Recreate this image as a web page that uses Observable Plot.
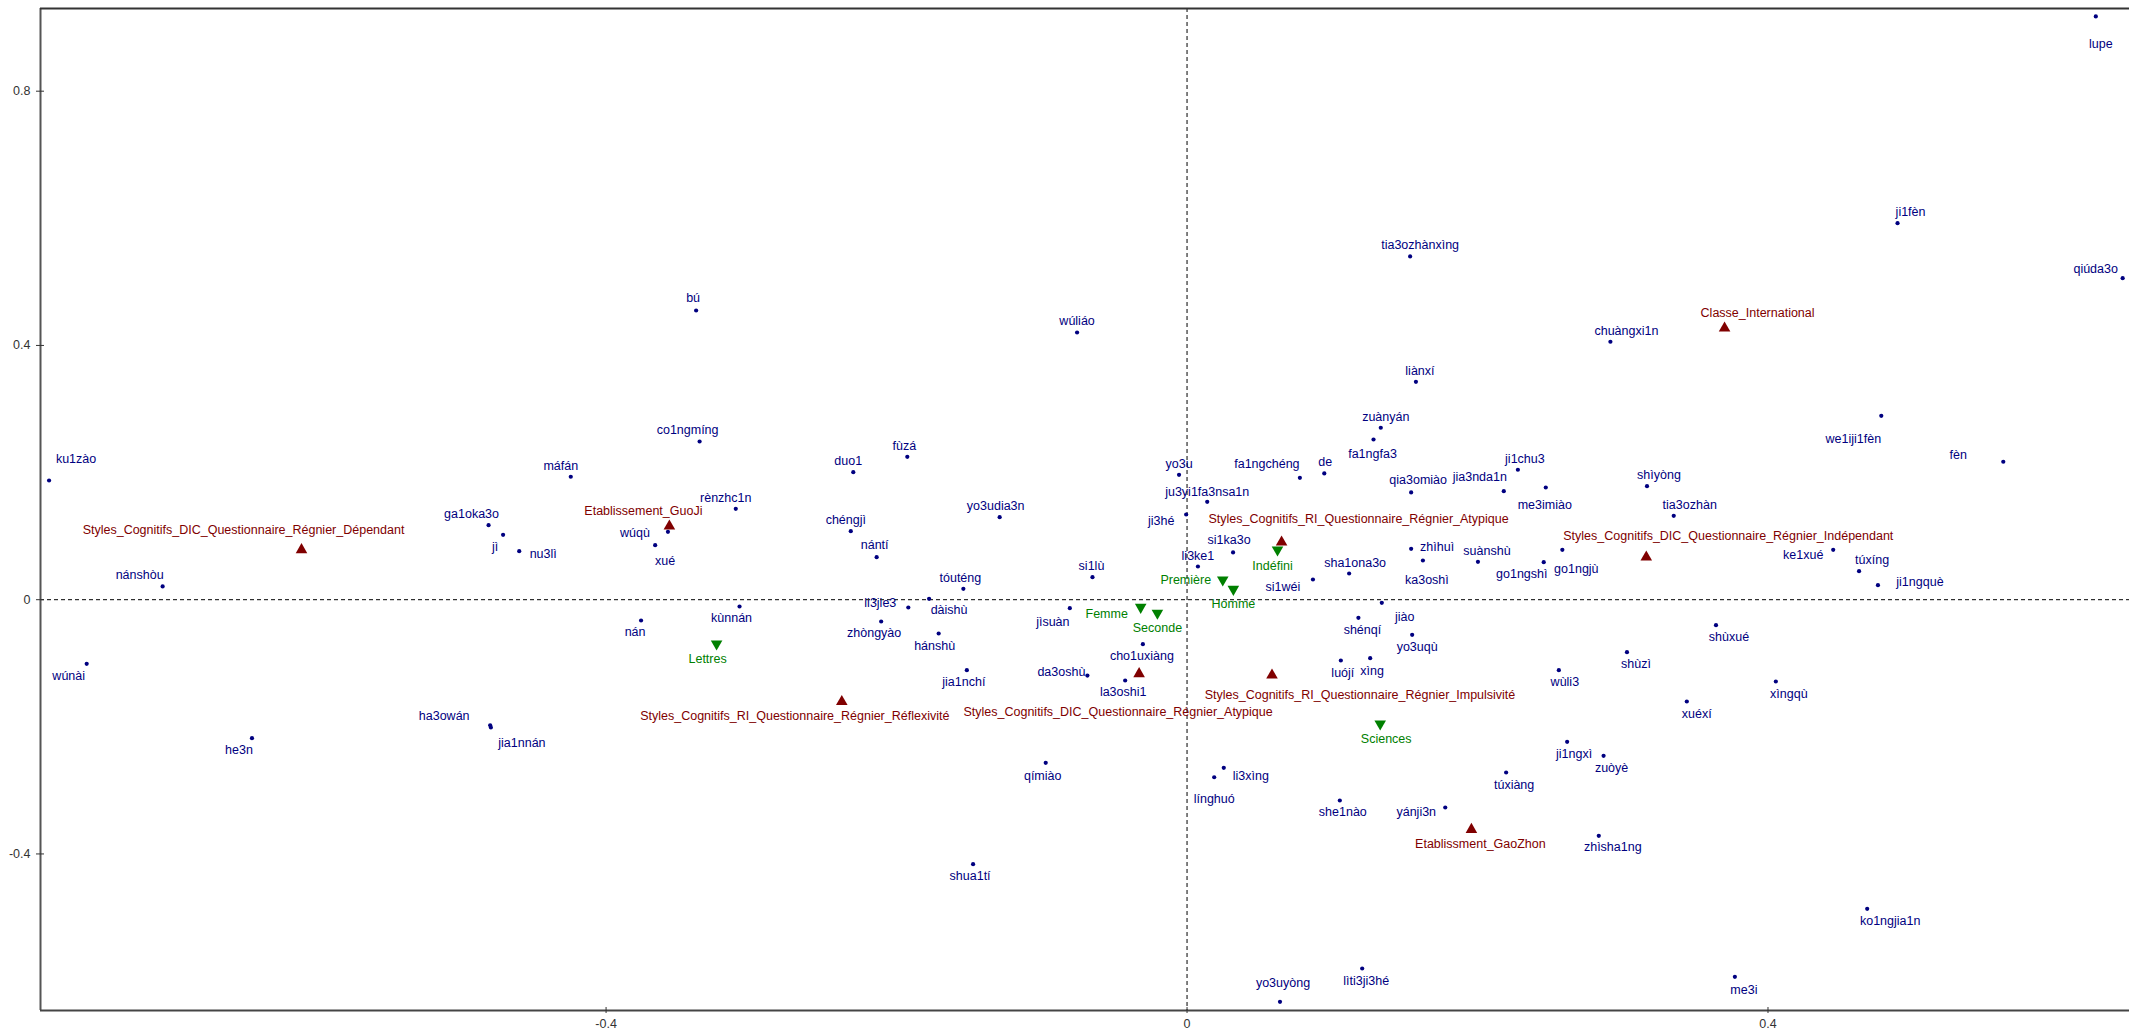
<!DOCTYPE html>
<html>
<head>
<meta charset="utf-8">
<script src="https://cdn.jsdelivr.net/npm/d3@7"></script>
<script src="https://cdn.jsdelivr.net/npm/@observablehq/plot@0.6"></script>
<style>
html, body { margin: 0; padding: 0; background: #fff; overflow: hidden; }
#chart svg { display: block; }
</style>
</head>
<body>
<div id="chart"></div>
<script>
// ---------- DATA ----------
const xTicks = [-0.4, 0, 0.4];
const xTickLabels = ["-0.4", "0", "0.4"];
const yTicks = [-0.4, 0, 0.4, 0.8];
const yTickLabels = ["-0.4", "0", "0.4", "0.8"];

const words = ["ku1zào","nánshòu","wúnài","he3n","ha3owán","jia1nnán","ga1oka3o","jì","nu3lì","máfán",
"co1ngmíng","bú","wúqù","xué","rènzhc1n","kùnnán","nán","duo1","fùzá","chéngjì",
"nántí","yo3udia3n","wúliáo","tóuténg","li3jie3","dàishù","zhòngyào","hánshù","jia1nchí","jìsuàn",
"da3oshù","qímiào","shua1tí","cho1uxiàng","la3oshi1","si1lù","yo3u","ju3yi1fa3nsa1n","ji3hé","li3ke1",
"si1ka3o","fa1ngchéng","de","fa1ngfa3","zuànyán","liànxí","tia3ozhànxìng","qia3omiào","jia3nda1n","ji1chu3",
"me3imiào","zhìhuì","sha1ona3o","si1wéi","ka3oshì","suànshù","go1ngshì","go1ngjù","jiào","shénqí",
"yo3uqù","luójí","xìng","wùli3","li3xìng","línghuó","she1nào","yánji3n","túxiàng","ji1ngxì",
"zuòyè","zhìsha1ng","lìti3ji3hé","yo3uyòng","xuéxí","xìngqù","shùxué","shùzì","ko1ngjia1n","me3i",
"chuàngxi1n","shìyòng","tia3ozhàn","ke1xué","túxíng","ji1ngquè","we1iji1fèn","fèn","ji1fèn","qiúda3o","lupe"];
const wordDim1 = [-0.7835,-0.7053,-0.7576,-0.6438,-0.4798,-0.4793,-0.4809,-0.4709,-0.4598,-0.4243,
-0.3356,-0.3380,-0.3574,-0.3662,-0.3107,-0.3081,-0.3759,-0.2298,-0.1926,-0.2315,
-0.2137,-0.1290,-0.0757,-0.1540,-0.1919,-0.1776,-0.2106,-0.1710,-0.1516,-0.0807,
-0.0686,-0.0973,-0.1473,-0.0304,-0.0426,-0.0651,-0.0055,0.0139,-0.0006,0.0075,
0.0317,0.0777,0.0945,0.1284,0.1334,0.1576,0.1536,0.1543,0.2181,0.2278,
0.2470,0.1543,0.1116,0.0867,0.1624,0.2003,0.2456,0.2584,0.1341,0.1180,
0.1550,0.1059,0.1261,0.2560,0.0253,0.0187,0.1052,0.1778,0.2197,0.2617,
0.2868,0.2835,0.1206,0.0640,0.3441,0.4054,0.3642,0.3029,0.4683,0.3772,
0.2915,0.3167,0.3351,0.4449,0.4627,0.4757,0.4780,0.5620,0.4892,0.6442,0.6257];
const wordDim2 = [0.1875,0.0208,-0.1009,-0.2179,-0.1975,-0.2011,0.1172,0.1021,0.0763,0.1934,
0.2489,0.4550,0.1068,0.0857,0.1430,-0.0107,-0.0327,0.2006,0.2248,0.1078,
0.0669,0.1298,0.4204,0.0171,-0.0123,0.0014,-0.0343,-0.0532,-0.1109,-0.0134,
-0.1193,-0.2566,-0.4161,-0.0700,-0.1271,0.0354,0.1965,0.1540,0.1340,0.0522,
0.0743,0.1918,0.1986,0.2520,0.2705,0.3428,0.5400,0.1687,0.1707,0.2044,
0.1765,0.0801,0.0412,0.0318,0.0617,0.0596,0.0590,0.0785,-0.0049,-0.0285,
-0.0552,-0.0957,-0.0920,-0.1109,-0.2645,-0.2793,-0.3159,-0.3269,-0.2719,-0.2236,
-0.2456,-0.3715,-0.5802,-0.6326,-0.1602,-0.1287,-0.0401,-0.0826,-0.4863,-0.5933,
0.4058,0.1786,0.1320,0.0785,0.0448,0.0228,0.2893,0.2170,0.5924,0.5058,0.9176];

const modalities = ["Styles_Cognitifs_DIC_Questionnaire_Régnier_Dépendant","Etablissement_GuoJi",
"Styles_Cognitifs_RI_Questionnaire_Régnier_Réflexivité","Styles_Cognitifs_DIC_Questionnaire_Régnier_Atypique",
"Styles_Cognitifs_RI_Questionnaire_Régnier_Atypique","Styles_Cognitifs_RI_Questionnaire_Régnier_Impulsivité",
"Etablissment_GaoZhon","Styles_Cognitifs_DIC_Questionnaire_Régnier_Indépendant","Classe_International"];
const modalityDim1 = [-0.6097,-0.3564,-0.2377,-0.0330,0.0651,0.0585,0.1958,0.3162,0.3701];
const modalityDim2 = [0.0785,0.1156,-0.1606,-0.1166,0.0905,-0.1188,-0.3616,0.0669,0.4272];

const groups = ["Lettres","Femme","Seconde","Première","Homme","Indéfini","Sciences"];
const groupDim1 = [-0.3239,-0.0319,-0.0204,0.0246,0.0319,0.0623,0.1330];
const groupDim2 = [-0.0694,-0.0118,-0.0212,0.0313,0.0165,0.0785,-0.1953];

// ---------- LAYOUT (label nudges in px, relative to each point) ----------
const labelNudge = {
"ku1zào":[27,-22],"nánshòu":[-23,-11],"wúnài":[-18,12],"he3n":[-13,12],"ha3owán":[-46,-9],"jia1nnán":[31,15],
"ga1oka3o":[-17,-11],"jì":[-8,12],"nu3lì":[24,3],"máfán":[-10,-11],"co1ngmíng":[-12,-11],"bú":[-3,-12],
"wúqù":[-33,1],"xué":[10,16],"rènzhc1n":[-10,-11],"kùnnán":[-8,12],"nán":[-6,12],"duo1":[-5,-11],"fùzá":[-3,-11],
"chéngjì":[-5,-11],"nántí":[-2,-12],"yo3udia3n":[-4,-11],"wúliáo":[0,-11],"tóuténg":[-3,-11],"li3jie3":[-28,-5],
"dàishù":[20,11],"zhòngyào":[-7,12],"hánshù":[-4,12],"jia1nchí":[-3,12],"jìsuàn":[-17,14],"da3oshù":[-26,-4],
"qímiào":[-3,13],"shua1tí":[-3,12],"cho1uxiàng":[-1,12],"la3oshi1":[-2,12],"si1lù":[-1,-11],"yo3u":[0,-11],
"ju3yi1fa3nsa1n":[0,-10],"ji3hé":[-25,6],"li3ke1":[0,-11],"si1ka3o":[-4,-12],"fa1ngchéng":[-33,-14],"de":[1,-11],
"fa1ngfa3":[-1,14],"zuànyán":[5,-11],"liànxí":[4,-11],"tia3ozhànxìng":[10,-11],"qia3omiào":[7,-12],
"jia3nda1n":[-24,-14],"ji1chu3":[7,-11],"me3imiào":[-1,17],"zhìhuì":[26,-2],"sha1ona3o":[6,-11],"si1wéi":[-30,8],
"ka3oshì":[4,20],"suànshù":[9,-11],"go1ngshì":[-22,12],"go1ngjù":[14,19],"jiào":[23,14],"shénqí":[4,12],
"yo3uqù":[5,12],"luójí":[2,12],"xìng":[2,13],"wùli3":[6,12],"li3xìng":[27,8],"línghuó":[0,22],"she1nào":[3,12],
"yánji3n":[-29,5],"túxiàng":[8,12],"ji1ngxì":[7,12],"zuòyè":[8,12],"zhìsha1ng":[14,11],"lìti3ji3hé":[4,13],
"yo3uyòng":[3,-19],"xuéxí":[10,12],"xìngqù":[13,12],"shùxué":[13,12],"shùzì":[9,12],"ko1ngjia1n":[23,12],
"me3i":[9,13],"chuàngxi1n":[16,-11],"shìyòng":[12,-11],"tia3ozhàn":[16,-11],"ke1xué":[-30,5],"túxíng":[13,-11],
"ji1ngquè":[42,-3],"we1iji1fèn":[-28,23],"fèn":[-45,-7],"ji1fèn":[13,-11],"qiúda3o":[-27,-9],"lupe":[5,28],
"Styles_Cognitifs_DIC_Questionnaire_Régnier_Dépendant":[-58,-20],"Etablissement_GuoJi":[-26,-15],
"Styles_Cognitifs_RI_Questionnaire_Régnier_Réflexivité":[-47,14],"Styles_Cognitifs_DIC_Questionnaire_Régnier_Atypique":[-21,38],
"Styles_Cognitifs_RI_Questionnaire_Régnier_Atypique":[77,-23],"Styles_Cognitifs_RI_Questionnaire_Régnier_Impulsivité":[88,20],
"Etablissment_GaoZhon":[9,14],"Styles_Cognitifs_DIC_Questionnaire_Régnier_Indépendant":[82,-21],"Classe_International":[33,-15],
"Lettres":[-9,15],"Femme":[-34,7],"Seconde":[0,15],"Première":[-37,0],"Homme":[0,15],"Indéfini":[-5,16],"Sciences":[6,15]
};

const COLORS = {word: "#000080", modality: "#800000", group: "#008000"};
const xDomain = [-0.7894, 0.6489];
const yDomain = [-0.6463, 0.9301];

// ---------- BUILD ----------
const wordRows = words.map((t, i) => ({label: t, d1: wordDim1[i], d2: wordDim2[i], kind: "word"}));
const modRows = modalities.map((t, i) => ({label: t, d1: modalityDim1[i], d2: modalityDim2[i], kind: "modality"}));
const groupRows = groups.map((t, i) => ({label: t, d1: groupDim1[i], d2: groupDim2[i], kind: "group"}));
const allRows = [...wordRows, ...modRows, ...groupRows];

const triangleDown = {
  draw(context, size) {
    const y = Math.sqrt(size / (3 * Math.sqrt(3)));
    context.moveTo(0, 2 * y);
    context.lineTo(-Math.sqrt(3) * y, -y);
    context.lineTo(Math.sqrt(3) * y, -y);
    context.closePath();
  }
};

const labelMarks = allRows.map(d => {
  const n = labelNudge[d.label] || [0, -11];
  return Plot.text([d], {x: "d1", y: "d2", text: "label", dx: n[0], dy: n[1],
    fill: COLORS[d.kind], fontSize: 12.5, textAnchor: "middle", lineAnchor: "middle"});
});

const plot = Plot.plot({
  width: 2129,
  height: 1034,
  marginLeft: 40,
  marginRight: 0,
  marginTop: 8,
  marginBottom: 24,
  x: {domain: xDomain, axis: null, label: null},
  y: {domain: yDomain, axis: null, label: null},
  style: {fontFamily: "'Liberation Sans', Arial, sans-serif", fontSize: "12.5px", background: "#fff", overflow: "visible"},
  marks: [
    Plot.ruleY([0], {stroke: "#000", strokeWidth: 1, strokeDasharray: "4,3"}),
    Plot.ruleX([0], {stroke: "#000", strokeWidth: 1, strokeDasharray: "4,3"}),
    Plot.ruleX([xDomain[0]], {stroke: "#555", strokeWidth: 2}),
    Plot.ruleY([yDomain[1]], {stroke: "#333", strokeWidth: 2}),
    Plot.ruleY([yDomain[0]], {stroke: "#444", strokeWidth: 2}),
    Plot.axisY({ticks: yTicks, anchor: "left", tickSize: 8, dx: 4, tickPadding: 6,
      tickFormat: d => yTickLabels[yTicks.indexOf(d)], label: null, color: "#333", fontSize: 12.5}),
    Plot.axisX({ticks: xTicks, anchor: "bottom", tickSize: 6, dy: -3, tickPadding: 6,
      tickFormat: d => xTickLabels[xTicks.indexOf(d)], label: null, color: "#333", fontSize: 12.5}),
    Plot.dot(wordRows, {x: "d1", y: "d2", r: 2.1, fill: COLORS.word, stroke: "none"}),
    Plot.dot(modRows, {x: "d1", y: "d2", r: 4.3, symbol: "triangle", fill: COLORS.modality, stroke: "none"}),
    Plot.dot(groupRows, {x: "d1", y: "d2", r: 4.3, symbol: triangleDown, fill: COLORS.group, stroke: "none"}),
    ...labelMarks
  ]
});

document.getElementById("chart").appendChild(plot);
</script>
</body>
</html>
